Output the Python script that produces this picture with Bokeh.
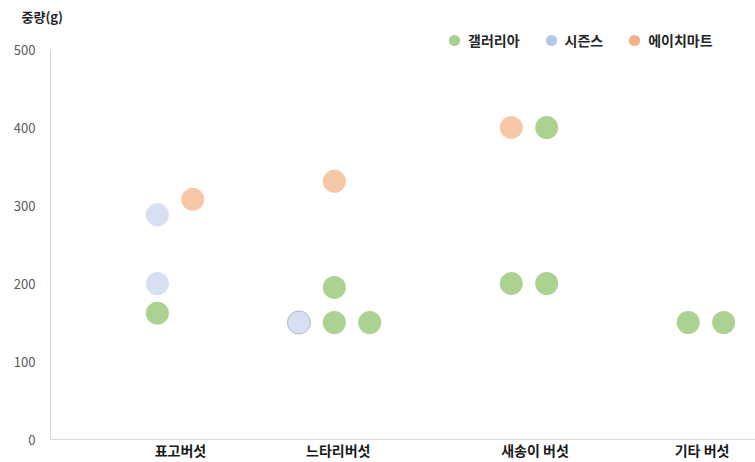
from bokeh.plotting import figure
from bokeh.models import Range1d, FixedTicker, Legend, LegendItem
from bokeh.embed import file_html
from bokeh.resources import INLINE

# ---- data ----
categories = ["표고버섯", "느타리버섯", "새송이 버섯", "기타 버섯"]
category_ticks = [3.65, 8.11, 13.67, 18.39]
y_ticks = [0, 100, 200, 300, 400, 500]
series_names = ["갤러리아", "시즌스", "에이치마트"]

galleria_x = [3, 8, 8, 9, 13, 14, 14, 18, 19]
galleria_y = [162, 195, 150, 150, 200, 400, 200, 150, 150]
seasons_x = [3, 3, 7]
seasons_y = [288, 200, 150]
hmart_x = [4, 8, 13]
hmart_y = [308, 331, 400]

FONT = "Noto Sans CJK KR"
GREEN, BLUE, ORANGE = "#a9d18e", "#b4c7e7", "#f4b183"

p = figure(width=755, height=462, output_backend="svg", toolbar_location=None,
           x_range=Range1d(-0.02, 19.9), y_range=Range1d(0, 529.5),
           min_border_left=50, min_border_right=0, min_border_top=26,
           min_border_bottom=23, background_fill_color="white",
           border_fill_color="white", title="중량(g)")
p.outline_line_color = None
p.xgrid.visible = False
p.ygrid.visible = False

# title (unit label)
p.title.align = "left"
p.title.offset = -29
p.title.standoff = 2
p.title.text_font = FONT
p.title.text_font_style = "bold"
p.title.text_font_size = "13px"
p.title.text_color = "#262626"

# axes
xa = p.xaxis[0]
xa.ticker = FixedTicker(ticks=category_ticks)
xa.major_label_overrides = {t: c for t, c in zip(category_ticks, categories)}
xa.axis_line_color = "#d9d9d9"
xa.major_tick_line_color = None
xa.minor_tick_line_color = None
xa.major_tick_out = 0
xa.major_tick_in = 0
xa.major_label_standoff = 0
xa.major_label_text_font = FONT
xa.major_label_text_font_style = "bold"
xa.major_label_text_font_size = "14px"
xa.major_label_text_color = "#1a1a1a"

ya = p.yaxis[0]
ya.ticker = FixedTicker(ticks=y_ticks)
ya.bounds = (0, 500)
ya.axis_line_color = "#d9d9d9"
ya.major_tick_line_color = None
ya.minor_tick_line_color = None
ya.major_tick_out = 0
ya.major_tick_in = 0
ya.major_label_standoff = 15
ya.major_label_text_font = FONT
ya.major_label_text_font_size = "13px"
ya.major_label_text_color = "#595959"

# points
p.scatter(galleria_x, galleria_y, size=23, fill_color=GREEN, fill_alpha=0.97, line_color=None)
p.scatter(seasons_x, seasons_y, size=23, fill_color=BLUE, fill_alpha=0.55, line_color=None)
p.scatter(hmart_x, hmart_y, size=23, fill_color=ORANGE, fill_alpha=0.7, line_color=None)
p.scatter([seasons_x[2]], [seasons_y[2]], size=23, fill_color=None, line_color="#b0bacd", line_width=1)

# legend (hidden renderers, full-strength colour)
leg_items = []
for name, col, xs, ys in zip(series_names, [GREEN, BLUE, ORANGE],
                             [galleria_x, seasons_x, hmart_x],
                             [galleria_y, seasons_y, hmart_y]):
    r = p.scatter(xs, ys, size=12, fill_color=col, line_color=None, visible=False)
    leg_items.append(LegendItem(label=name, renderers=[r]))
legend = Legend(items=leg_items, orientation="horizontal", location=(390, 385),
                glyph_width=28, glyph_height=28, label_standoff=0, spacing=17,
                padding=0, margin=0, border_line_color=None, background_fill_alpha=0,
                label_text_font=FONT, label_text_font_style="bold",
                label_text_font_size="14px", label_text_color="#262626",
                click_policy="none")
p.add_layout(legend)

open("out.html", "w").write(file_html(p, INLINE))
